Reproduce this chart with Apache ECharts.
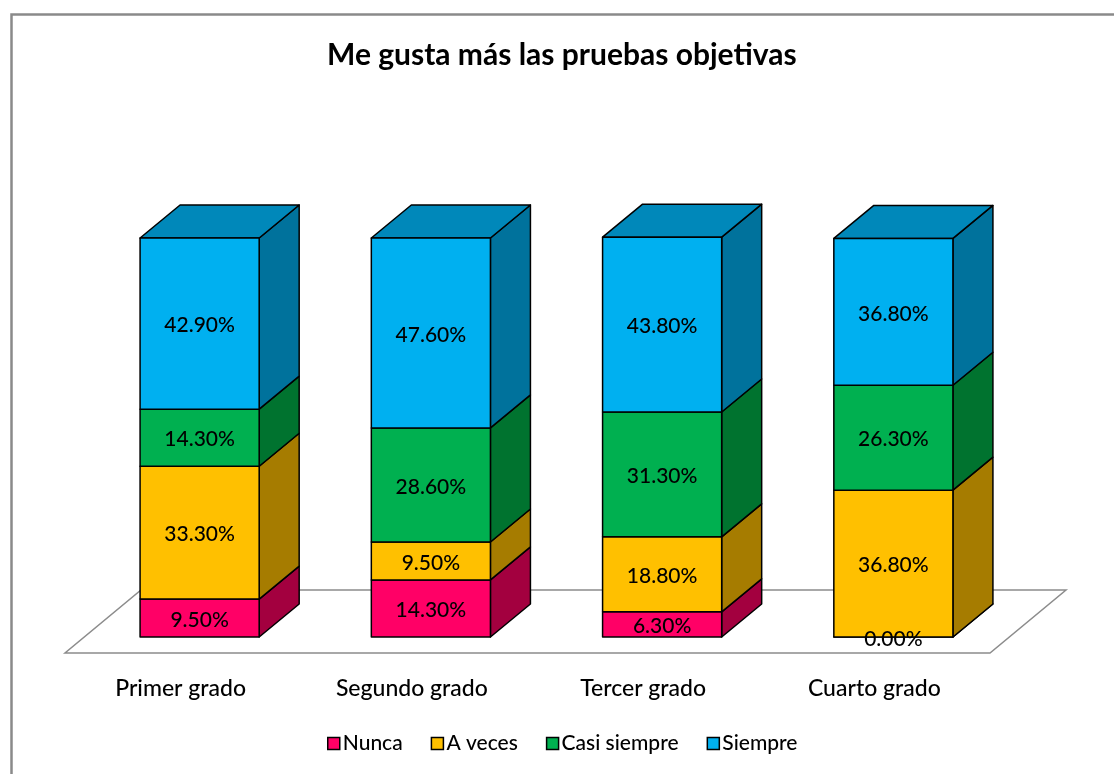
<!DOCTYPE html>
<html>
<head>
<meta charset="utf-8">
<title>Me gusta más las pruebas objetivas</title>
<script src="https://cdn.jsdelivr.net/npm/echarts@6/dist/echarts.min.js"></script>
<style>
  html, body { margin: 0; padding: 0; background: #fff; }
  #chart { width: 1114px; height: 774px; }
</style>
</head>
<body>
<div id="chart"></div>
<script>
const categories = ['Primer grado', 'Segundo grado', 'Tercer grado', 'Cuarto grado']
const seriesNames = ['Nunca', 'A veces', 'Casi siempre', 'Siempre']
const nunca = [9.5, 14.3, 6.3, 0.0]
const aVeces = [33.3, 9.5, 18.8, 36.8]
const casiSiempre = [14.3, 28.6, 31.3, 26.3]
const siempre = [42.9, 47.6, 43.8, 36.8]

const values = [nunca, aVeces, casiSiempre, siempre]
const frontColors = ['#FF0066', '#FFC000', '#00B050', '#00B0F0']
const sideColors = ['#A3003F', '#A67C00', '#00732F', '#00729C']
const topColors = ['#C4004E', '#C99600', '#008A3C', '#0088BA']

const FONT = 'Lato, "Open Sans", sans-serif'
// projection of the 3D box
const BAR_DX = 40, BAR_DY = -33
const FLOOR_DX = 76, FLOOR_DY = -63
const BAR_SHIFT = 19, FLOOR_FRONT = 16
const BAR_RATIO = 0.515

const chart = echarts.init(document.getElementById('chart'), null, { renderer: 'canvas' })

function stackData(k) {
  return categories.map((c, i) => {
    let base = 0
    for (let j = 0; j < k; j++) base += values[j][i]
    let above = 0
    for (let j = k + 1; j < values.length; j++) above += values[j][i]
    return [i, base, values[k][i], above > 0 ? 0 : 1]
  })
}

function renderSegment(k) {
  return function (params, api) {
    const i = api.value(0)
    const base = api.value(1)
    const val = api.value(2)
    const isTop = api.value(3) === 1
    const band = api.size([1, 0])[0]
    const bw = band * BAR_RATIO
    const p0 = api.coord([i, base])
    const p1 = api.coord([i, base + val])
    const x0 = p0[0] + BAR_SHIFT - bw / 2
    const x1 = x0 + bw
    const yb = p0[1]
    const yt = p1[1]
    const stroke = { stroke: '#000', lineWidth: 1.5, lineJoin: 'round' }
    const children = [
      {
        type: 'polygon',
        z2: 1,
        shape: { points: [[x1, yb], [x1 + BAR_DX, yb + BAR_DY], [x1 + BAR_DX, yt + BAR_DY], [x1, yt]] },
        style: Object.assign({ fill: sideColors[k] }, stroke)
      },
      {
        type: 'rect',
        z2: 2,
        shape: { x: x0, y: yt, width: bw, height: yb - yt },
        style: Object.assign({ fill: frontColors[k] }, stroke)
      }
    ]
    if (isTop) {
      children.push({
        type: 'polygon',
        z2: 1,
        shape: { points: [[x0, yt], [x1, yt], [x1 + BAR_DX, yt + BAR_DY], [x0 + BAR_DX, yt + BAR_DY]] },
        style: Object.assign({ fill: topColors[k] }, stroke)
      })
    }
    children.push({
      type: 'text',
      z2: 100,
      style: {
        x: (x0 + x1) / 2,
        y: (yb + yt) / 2 + 2,
        text: val.toFixed(2) + '%',
        fill: '#000',
        font: '500 21px ' + FONT,
        align: 'center',
        verticalAlign: 'middle'
      }
    })
    return { type: 'group', children }
  }
}

function renderFloor(params, api) {
  const cs = params.coordSys
  const y = cs.y + cs.height + FLOOR_FRONT
  const xl = cs.x, xr = cs.x + cs.width
  return {
    type: 'polygon',
    z2: 0,
    shape: { points: [[xl, y], [xr, y], [xr + FLOOR_DX, y + FLOOR_DY], [xl + FLOOR_DX, y + FLOOR_DY]] },
    style: { fill: '#fff', stroke: '#8c8c8c', lineWidth: 1.5 }
  }
}

const series = [
  {
    name: 'floor',
    type: 'custom',
    renderItem: renderFloor,
    data: [[0]],
    silent: true,
    z: 1,
    clip: false
  }
].concat(seriesNames.map((name, k) => ({
  name,
  type: 'custom',
  renderItem: renderSegment(k),
  data: stackData(k),
  encode: { x: 0, y: [1, 2] },
  itemStyle: { color: frontColors[k], borderColor: '#000', borderWidth: 1.5 },
  z: 2,
  clip: false
})))

chart.setOption({
  animation: false,
  backgroundColor: '#fff',
  textStyle: { fontFamily: FONT },
  graphic: [{
    type: 'rect',
    left: 9,
    top: 12,
    shape: { width: 1200, height: 900 },
    style: { fill: 'none', stroke: '#8a8a8a', lineWidth: 2.5 },
    silent: true
  }],
  title: {
    text: 'Me gusta más las pruebas objetivas',
    left: 322,
    top: 35,
    textStyle: { fontFamily: FONT, fontSize: 30, fontWeight: 'bold', color: '#000' }
  },
  legend: {
    data: seriesNames,
    bottom: 15,
    left: 322,
    icon: 'rect',
    itemWidth: 12,
    itemHeight: 12,
    itemGap: 28,
    itemStyle: { borderColor: '#000', borderWidth: 1.5 },
    textStyle: { fontFamily: FONT, fontSize: 21, fontWeight: 500, color: '#000', padding: [0, 0, 0, -2] }
  },
  grid: { left: 65, right: 124, top: 238, bottom: 137 },
  xAxis: {
    type: 'category',
    data: categories,
    axisLine: { show: false },
    axisTick: { show: false },
    axisLabel: { margin: 40, fontFamily: FONT, fontSize: 23, fontWeight: 500, color: '#000' }
  },
  yAxis: {
    type: 'value',
    min: 0,
    max: 100,
    show: false,
    splitLine: { show: false }
  },
  series
})
</script>
</body>
</html>
